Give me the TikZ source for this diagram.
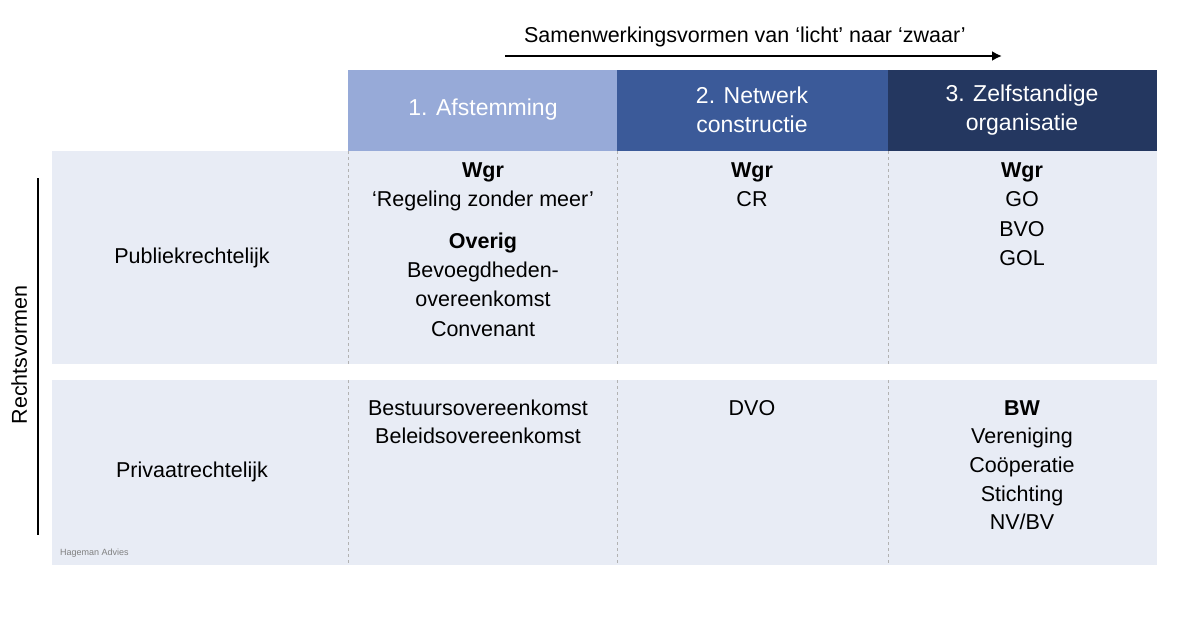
\documentclass[tikz,border=0pt]{standalone}
\usepackage{fontspec}
\usetikzlibrary{arrows.meta}
\setmainfont{Liberation Sans}
\definecolor{hl}{HTML}{97AAD8}
\definecolor{hm}{HTML}{3B5A99}
\definecolor{hd}{HTML}{243760}
\definecolor{cellbg}{HTML}{E8ECF5}
\tikzset{
 t/.style={font=\fontsize{21.5}{26}\selectfont, inner sep=0pt, anchor=center, text height=15pt, text depth=5pt},
 b/.style={t, font=\fontsize{21.5}{26}\selectfont\bfseries},
 h/.style={font=\fontsize{23}{29}\selectfont, align=center, text=white},
 sep/.style={gray!60, dashed, line width=0.6pt}
}
\begin{document}
\begin{tikzpicture}[x=1pt,y=-1pt]
\useasboundingbox (0,0) rectangle (1200,624);
\fill[cellbg] (52,151) rectangle (1157,364);
\fill[cellbg] (52,380) rectangle (1157,565);
\fill[hl] (348,70) rectangle (617,151);
\fill[hm] (617,70) rectangle (888,151);
\fill[hd] (888,70) rectangle (1157,151);
\node[h] (h1) at (483,110) {1. Afstemming};
\node[h] (h2) at (752,110) {2. Netwerk\\constructie};
\node[h] (h3) at (1022,110) {3. Zelfstandige\\organisatie};
\foreach \x in {348,617,888}{
 \draw[sep] (\x,151) -- (\x,364);
 \draw[sep] (\x,380) -- (\x,565);}
\node[t] (ttl) at (745,37) {Samenwerkingsvormen van ‘licht’ naar ‘zwaar’};
\coordinate (a1) at (505,56); \coordinate (a2) at (1002,56);
\draw[line width=2.5pt,-{Latex[length=10pt,width=10pt]}] (a1) -- (a2);
\coordinate (v1) at (38,178); \coordinate (v2) at (38,535);
\draw[line width=2.5pt] (v1) -- (v2);
\node[t, rotate=90] (rv) at (22,355) {Rechtsvormen};
\node[t] (pub) at (192,258) {Publiekrechtelijk};
\node[t] (pri) at (192,472) {Privaatrechtelijk};
\node[font=\fontsize{9}{11}\selectfont, text=gray, anchor=west, inner sep=0pt] (hag) at (60,553) {Hageman Advies};
% col1 top
\node[b] (c1a) at (483,172) {Wgr};
\node[t] (c1b) at (483,201) {‘Regeling zonder meer’};
\node[b] (c1c) at (483,243) {Overig};
\node[t] (c1d) at (483,272) {Bevoegdheden-};
\node[t] (c1e) at (483,301) {overeenkomst};
\node[t] (c1f) at (483,331) {Convenant};
% col2 top
\node[b] (c2a) at (752,172) {Wgr};
\node[t] (c2b) at (752,201) {CR};
% col3 top
\node[b] (c3a) at (1022,172) {Wgr};
\node[t] (c3b) at (1022,201) {GO};
\node[t] (c3c) at (1022,231) {BVO};
\node[t] (c3d) at (1022,260) {GOL};
% bottom
\node[t] (d1a) at (478,410) {Bestuursovereenkomst};
\node[t] (d1b) at (478,438) {Beleidsovereenkomst};
\node[t] (d2a) at (752,410) {DVO};
\node[b] (d3a) at (1022,410) {BW};
\node[t] (d3b) at (1022,438) {Vereniging};
\node[t] (d3c) at (1022,467) {Coöperatie};
\node[t] (d3d) at (1022,496) {Stichting};
\node[t] (d3e) at (1022,524) {NV/BV};
\end{tikzpicture}
\end{document}
